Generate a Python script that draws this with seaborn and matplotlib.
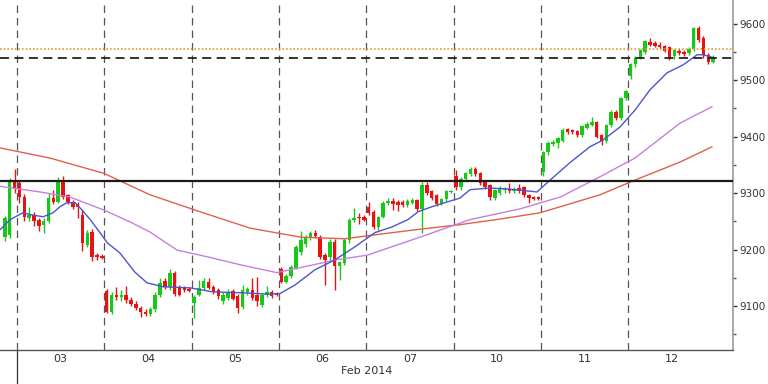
import matplotlib
matplotlib.use("Agg")
import matplotlib.pyplot as plt
import matplotlib.transforms as mtransforms
import seaborn as sns
import numpy as np
import pandas as pd

sns.set_style("white")
plt.rcParams['font.family'] = ['DejaVu Sans']

# 30 minute candles as (open, high, low, close)
ohlc_jan31 = [(9222, 9260, 9215, 9255), (9225, 9326, 9220, 9322), (9322, 9342, 9300, 9308)]
ohlc_03 = [(9318, 9322, 9283, 9293), (9293, 9298, 9250, 9258), (9255, 9275, 9250, 9262),
           (9262, 9266, 9242, 9250), (9252, 9256, 9232, 9242), (9244, 9255, 9230, 9250),
           (9250, 9300, 9247, 9292), (9292, 9305, 9281, 9285), (9285, 9328, 9283, 9323),
           (9323, 9330, 9289, 9293), (9296, 9299, 9280, 9285), (9285, 9288, 9272, 9275),
           (9280, 9284, 9255, 9276), (9262, 9270, 9198, 9212), (9208, 9235, 9204, 9229),
           (9231, 9236, 9180, 9187), (9190, 9193, 9181, 9186), (9188, 9192, 9183, 9185)]
ohlc_04 = [(9127, 9130, 9088, 9090), (9090, 9125, 9085, 9120), (9120, 9134, 9110, 9116),
           (9115, 9128, 9108, 9120), (9120, 9135, 9105, 9110), (9110, 9115, 9100, 9104),
           (9104, 9108, 9093, 9097), (9097, 9100, 9080, 9090), (9090, 9095, 9082, 9086),
           (9086, 9098, 9082, 9094), (9094, 9125, 9090, 9120), (9120, 9150, 9115, 9140),
           (9144, 9150, 9130, 9134), (9134, 9165, 9128, 9158), (9158, 9162, 9118, 9122),
           (9134, 9138, 9118, 9120), (9134, 9136, 9125, 9128), (9130, 9133, 9124, 9127)]
ohlc_05 = [(9106, 9120, 9078, 9116), (9120, 9146, 9118, 9131), (9131, 9150, 9128, 9144),
           (9142, 9150, 9130, 9132), (9133, 9138, 9122, 9125), (9128, 9132, 9112, 9118),
           (9108, 9124, 9104, 9120), (9114, 9130, 9110, 9125), (9126, 9130, 9110, 9113),
           (9118, 9121, 9088, 9097), (9098, 9138, 9095, 9128), (9124, 9133, 9120, 9130),
           (9128, 9149, 9110, 9114), (9120, 9152, 9100, 9108), (9102, 9123, 9098, 9120),
           (9120, 9135, 9116, 9125), (9125, 9128, 9114, 9118), (9122, 9125, 9117, 9120)]
ohlc_06 = [(9166, 9169, 9140, 9143), (9143, 9156, 9140, 9153), (9153, 9172, 9150, 9169),
           (9168, 9208, 9165, 9204), (9196, 9232, 9190, 9217), (9210, 9225, 9205, 9222),
           (9220, 9232, 9216, 9229), (9230, 9234, 9220, 9224), (9222, 9226, 9184, 9187),
           (9190, 9194, 9137, 9182), (9186, 9218, 9180, 9214), (9214, 9218, 9128, 9170),
           (9170, 9180, 9146, 9178), (9176, 9220, 9172, 9217), (9217, 9256, 9212, 9253),
           (9252, 9274, 9248, 9256), (9258, 9265, 9245, 9255), (9257, 9262, 9250, 9253)]
ohlc_07 = [(9276, 9285, 9262, 9265), (9267, 9270, 9236, 9240), (9240, 9260, 9235, 9258),
           (9258, 9286, 9255, 9283), (9282, 9292, 9278, 9286), (9286, 9292, 9270, 9280),
           (9285, 9288, 9268, 9278), (9285, 9288, 9276, 9279), (9279, 9289, 9276, 9286),
           (9283, 9291, 9280, 9288), (9287, 9290, 9268, 9271), (9271, 9320, 9230, 9315),
           (9315, 9320, 9296, 9300), (9303, 9306, 9288, 9292), (9296, 9299, 9277, 9280),
           (9281, 9292, 9278, 9289), (9289, 9306, 9286, 9303), (9302, 9306, 9300, 9304)]
ohlc_10 = [(9330, 9340, 9306, 9310), (9310, 9328, 9306, 9325), (9325, 9337, 9322, 9335),
           (9333, 9346, 9330, 9343), (9343, 9346, 9330, 9333), (9336, 9338, 9315, 9318),
           (9320, 9322, 9308, 9311), (9314, 9316, 9288, 9293), (9292, 9308, 9288, 9306),
           (9300, 9312, 9297, 9308), (9305, 9310, 9300, 9306), (9308, 9318, 9300, 9304),
           (9303, 9310, 9300, 9307), (9309, 9316, 9300, 9304), (9310, 9312, 9293, 9296),
           (9296, 9298, 9283, 9292), (9293, 9295, 9287, 9290), (9292, 9294, 9287, 9290)]
ohlc_11 = [(9338, 9375, 9330, 9372), (9372, 9392, 9368, 9389), (9387, 9394, 9383, 9390),
           (9388, 9400, 9380, 9397), (9392, 9415, 9390, 9412), (9413, 9416, 9405, 9409),
           (9412, 9414, 9405, 9408), (9410, 9412, 9400, 9403), (9403, 9420, 9400, 9418),
           (9416, 9425, 9413, 9422), (9421, 9435, 9418, 9425), (9425, 9428, 9397, 9400),
           (9402, 9405, 9385, 9392), (9392, 9423, 9389, 9420), (9420, 9447, 9417, 9444),
           (9444, 9447, 9430, 9433), (9433, 9471, 9430, 9468), (9468, 9483, 9465, 9480)]
ohlc_12 = [(9508, 9530, 9502, 9528), (9528, 9542, 9524, 9540), (9540, 9556, 9537, 9554),
           (9550, 9572, 9547, 9570), (9567, 9575, 9560, 9562), (9566, 9570, 9558, 9561),
           (9563, 9567, 9555, 9558), (9560, 9563, 9549, 9552), (9558, 9561, 9535, 9538),
           (9542, 9556, 9538, 9553), (9551, 9555, 9545, 9548), (9550, 9553, 9543, 9546),
           (9548, 9559, 9545, 9556), (9555, 9595, 9552, 9592), (9592, 9596, 9568, 9572),
           (9575, 9578, 9540, 9545), (9545, 9548, 9528, 9533), (9533, 9544, 9530, 9541)]

days = ["03", "04", "05", "06", "07", "10", "11", "12"]
bars_per_day = 18

# moving averages (bar index, level)
ma_fast_x = [-1, 1.1, 3.7, 5.8, 7.9, 9.9, 11.4, 12.8, 14.5, 15.9, 17.6, 19.6, 21.1, 23.7, 26.8,
             29.3, 32.6, 38.2, 42.9, 49.9, 54.0, 56.7, 59.8, 63.9, 68.1, 72.2, 76.3, 79.8, 83.1,
             85.2, 88.1, 90.7, 93.8, 95.9, 100.0, 104.1, 109.7, 112.4, 116.5, 120.6, 123.3,
             126.8, 129.9, 133.0, 136.5, 139.8, 142.7, 143.9, 146.0]
ma_fast = [9235, 9253, 9265, 9261, 9258, 9265, 9276, 9283, 9283, 9270, 9253, 9230, 9212, 9194, 9160,
           9141, 9134, 9132, 9125, 9123, 9121, 9122, 9137, 9164, 9182, 9205, 9230, 9240, 9253,
           9267, 9276, 9283, 9291, 9306, 9309, 9307, 9302, 9323, 9354, 9382, 9394,
           9417, 9447, 9483, 9513, 9527, 9545, 9545, 9540]
ma_mid_x = [-1, 7.2, 13.4, 20.4, 25.8, 29.9, 35.5, 42.3, 48.5, 56.1, 60.9, 68.5, 74.7, 85.6,
            95.9, 106.2, 114.5, 122.7, 129.9, 139.2, 145.8]
ma_mid = [9312, 9302, 9293, 9270, 9249, 9231, 9199, 9186, 9173, 9159, 9168, 9182, 9190, 9222,
          9253, 9272, 9293, 9329, 9362, 9424, 9453]
ma_slow_x = [-1, 9.3, 20.4, 29.9, 40.2, 50.5, 60.9, 70.1, 75.3, 85.6, 93.8, 102.1, 110.3,
             122.7, 129.9, 139.2, 145.8]
ma_slow = [9380, 9362, 9335, 9297, 9267, 9238, 9222, 9219, 9225, 9236, 9244, 9254, 9265,
           9297, 9323, 9355, 9382]

support = 9322
stop_level = 9540
prev_high = 9556

candles = ohlc_jan31 + ohlc_03 + ohlc_04 + ohlc_05 + ohlc_06 + ohlc_07 + ohlc_10 + ohlc_11 + ohlc_12
df = pd.DataFrame(candles, columns=["open", "high", "low", "close"])
df["x"] = np.arange(len(df))
n_pre = len(ohlc_jan31)

green, red = "#18c818", "#e81212"
colors = np.where(df["close"] >= df["open"], green, red)

fig = plt.figure(figsize=(7.68, 3.84), dpi=100)
ax = fig.add_axes([0, 34 / 384, 733 / 768, 350 / 384])

# day separators
bounds = [n_pre - 0.5 + bars_per_day * k for k in range(len(days))]
for b in bounds:
    ax.axvline(b, color="#555555", lw=0.9, ls=(0, (6, 4)), zorder=1)

# candles
ax.vlines(df["x"], df["low"], df["high"], colors=colors, lw=1, zorder=3)
body = (df["close"] - df["open"]).abs().clip(lower=2.5)
ax.bar(df["x"], body, bottom=df[["open", "close"]].min(axis=1), width=0.72,
       color=colors, lw=0, zorder=4)

# moving averages
sns.lineplot(x=ma_slow_x, y=ma_slow, color="#e0604c", lw=1, ax=ax, zorder=5)
sns.lineplot(x=ma_mid_x, y=ma_mid, color="#c77ee0", lw=1, ax=ax, zorder=5)
sns.lineplot(x=ma_fast_x, y=ma_fast, color="#4a55d0", lw=1, ax=ax, zorder=5)

# levels
ax.axhline(support, color="#1a1a1a", lw=1.6, zorder=6)
ax.axhline(stop_level, color="#222222", lw=1.3, ls=(0, (5, 3)), zorder=6)
ax.axhline(prev_high, color="#e39a2e", lw=1.2, ls=(0, (1, 1.2)), zorder=6)

ax.set_xlim(-1.0, 150.1)
ax.set_ylim(9022, 9642)

# long tick at the month start
trans = mtransforms.blended_transform_factory(ax.transData, ax.transAxes)
ax.plot([bounds[0], bounds[0]], [0, -0.1], transform=trans, clip_on=False, color="#333333", lw=0.9)

centers = [b + bars_per_day / 2 for b in bounds]
ax.set_xticks(centers, days)
ax.tick_params(axis="x", length=0, pad=3, labelsize=8, labelcolor="#333333")
ax.set_xlabel("Feb 2014", fontsize=8, color="#333333", labelpad=1)

ax.yaxis.tick_right()
ax.set_yticks(range(9100, 9700, 100))
ax.set_yticks(range(9050, 9650, 100), minor=True)
ax.tick_params(axis="y", which="major", direction="out", length=3, width=1, color="#333333",
               pad=1.5, labelsize=7.5, labelcolor="#333333")
ax.tick_params(axis="y", which="minor", direction="out", length=2, width=1, color="#555555")

for s in ["top", "left"]:
    ax.spines[s].set_visible(False)
ax.spines["right"].set_color("#999999")
ax.spines["right"].set_linewidth(1.2)
ax.spines["bottom"].set_color("#555555")
ax.spines["bottom"].set_linewidth(1)

fig.savefig("out.png", dpi=100)
